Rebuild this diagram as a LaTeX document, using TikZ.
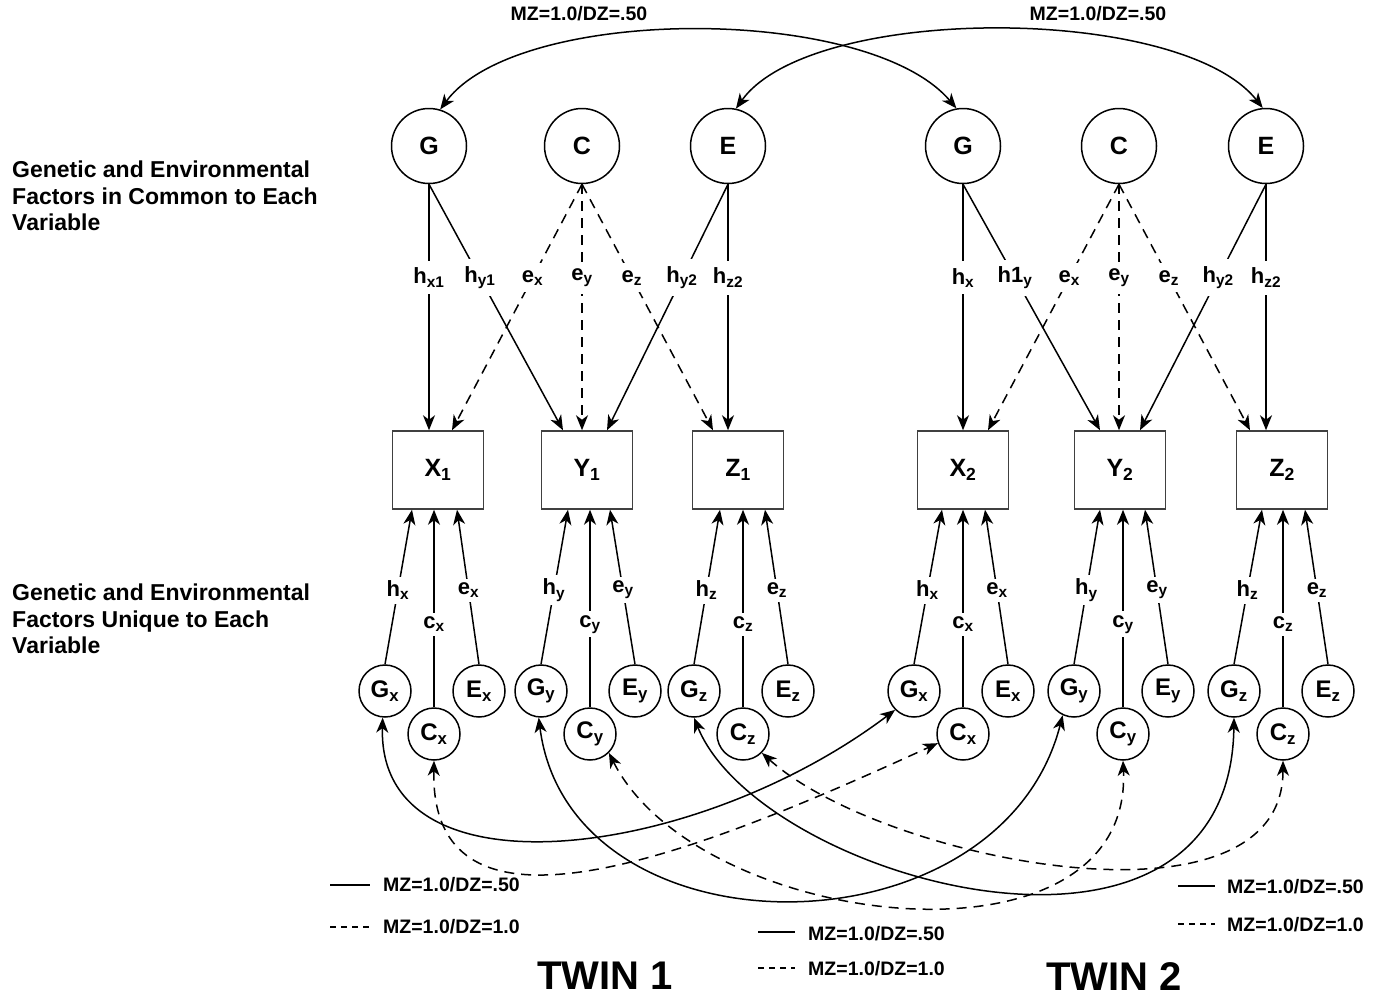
\documentclass[tikz,border=0pt]{standalone}
\usepackage{fontspec}
\setmainfont{Liberation Sans}
\usetikzlibrary{arrows.meta}

\begin{document}
\begin{tikzpicture}[x=1pt,y=-1pt,
  every node/.style={font=\bfseries},
  tip/.tip={Stealth[length=15pt,width=12pt,inset=4.5pt]},
  latent/.style={circle,draw,line width=1.5pt,inner sep=0pt,minimum size=75pt,
    font=\fontsize{25}{25}\selectfont\bfseries},
  ulatent/.style={circle,draw,line width=1.5pt,inner sep=0pt,minimum size=52pt,
    font=\fontsize{24}{24}\selectfont\bfseries},
  obs/.style={rectangle,draw=black!75,line width=1.5pt,minimum width=91pt,
    minimum height=78pt,inner sep=0pt,font=\fontsize{25}{25}\selectfont\bfseries},
  link/.style={line width=1.5pt,-tip},
  dlink/.style={link,dash pattern=on 10pt off 7pt},
  cov/.style={line width=1.5pt,tip-tip},
  dcov/.style={cov,dash pattern=on 10pt off 7pt},
  coef/.style={fill=white,inner xsep=2pt,inner ysep=7pt,
    font=\fontsize{22}{22}\selectfont\bfseries},
  ucoef/.style={coef,inner ysep=4pt},
  note/.style={font=\fontsize{19.5}{20}\selectfont\bfseries,anchor=west,inner sep=0pt},
  key/.style={line width=1.5pt},
  dkey/.style={key,dash pattern=on 6pt off 5pt},
  side/.style={anchor=north west,align=left,inner sep=0pt,
    font=\fontsize{23}{26.5}\selectfont\bfseries},
  twin/.style={inner sep=0pt,font=\fontsize{40}{40}\selectfont\bfseries},
]
\useasboundingbox (0,0) rectangle (1379,999);

% common factors
\node[latent] (G1) at (429,146) {G};
\node[latent] (C1) at (582,146) {C};
\node[latent] (E1) at (728,146) {E};
\node[latent] (G2) at (963,146) {G};
\node[latent] (C2) at (1119,146) {C};
\node[latent] (E2) at (1266,146) {E};

% measured variables
\node[obs] (X1) at (438,470) {X\textsubscript{1}};
\node[obs] (Y1) at (587,470) {Y\textsubscript{1}};
\node[obs] (Z1) at (738,470) {Z\textsubscript{1}};
\node[obs] (X2) at (963,470) {X\textsubscript{2}};
\node[obs] (Y2) at (1120,470) {Y\textsubscript{2}};
\node[obs] (Z2) at (1282,470) {Z\textsubscript{2}};

% specific factors, twin 1
\node[ulatent] (Gx1) at (385,691) {G\textsubscript{x}};
\node[ulatent] (Cx1) at (434,734) {C\textsubscript{x}};
\node[ulatent] (Ex1) at (479,691) {E\textsubscript{x}};
\node[ulatent] (Gy1) at (541,691) {G\textsubscript{y}};
\node[ulatent] (Cy1) at (590,734) {C\textsubscript{y}};
\node[ulatent] (Ey1) at (635,691) {E\textsubscript{y}};
\node[ulatent] (Gz1) at (694,691) {G\textsubscript{z}};
\node[ulatent] (Cz1) at (743,734) {C\textsubscript{z}};
\node[ulatent] (Ez1) at (788,691) {E\textsubscript{z}};
% specific factors, twin 2
\node[ulatent] (Gx2) at (914,691) {G\textsubscript{x}};
\node[ulatent] (Cx2) at (963,734) {C\textsubscript{x}};
\node[ulatent] (Ex2) at (1008,691) {E\textsubscript{x}};
\node[ulatent] (Gy2) at (1074,691) {G\textsubscript{y}};
\node[ulatent] (Cy2) at (1123,734) {C\textsubscript{y}};
\node[ulatent] (Ey2) at (1168,691) {E\textsubscript{y}};
\node[ulatent] (Gz2) at (1234,691) {G\textsubscript{z}};
\node[ulatent] (Cz2) at (1283,734) {C\textsubscript{z}};
\node[ulatent] (Ez2) at (1328,691) {E\textsubscript{z}};

% common factor loadings, twin 1
\draw[link] (G1.south) -- (G1.south |- X1.north) node[coef,pos=.38] {h\textsubscript{x1}};
\draw[link] (G1.south) -- ([xshift=-24pt]Y1.north) node[coef,pos=.38] {h\textsubscript{y1}};
\draw[dlink] (C1.south) -- ([xshift=14pt]X1.north) node[coef,pos=.38] {e\textsubscript{x}};
\draw[dlink] (C1.south) -- (C1.south |- Y1.north) node[coef,pos=.38] {e\textsubscript{y}};
\draw[dlink] (C1.south) -- ([xshift=-25pt]Z1.north) node[coef,pos=.38] {e\textsubscript{z}};
\draw[link] (E1.south) -- ([xshift=20pt]Y1.north) node[coef,pos=.38] {h\textsubscript{y2}};
\draw[link] (E1.south) -- (E1.south |- Z1.north) node[coef,pos=.38] {h\textsubscript{z2}};

% common factor loadings, twin 2
\draw[link] (G2.south) -- (G2.south |- X2.north) node[coef,pos=.38] {h\textsubscript{x}};
\draw[link] (G2.south) -- ([xshift=-20pt]Y2.north) node[coef,pos=.38] {h1\textsubscript{y}};
\draw[dlink] (C2.south) -- ([xshift=25pt]X2.north) node[coef,pos=.38] {e\textsubscript{x}};
\draw[dlink] (C2.south) -- (C2.south |- Y2.north) node[coef,pos=.38] {e\textsubscript{y}};
\draw[dlink] (C2.south) -- ([xshift=-32pt]Z2.north) node[coef,pos=.38] {e\textsubscript{z}};
\draw[link] (E2.south) -- ([xshift=20pt]Y2.north) node[coef,pos=.38] {h\textsubscript{y2}};
\draw[link] (E2.south) -- (E2.south |- Z2.north) node[coef,pos=.38] {h\textsubscript{z2}};

% specific factor loadings, twin 1
\draw[link] (Gx1.north) -- ([xshift=-26pt]X1.south) node[ucoef,pos=.48] {h\textsubscript{x}};
\draw[link] (Cx1.north) -- (Cx1.north |- X1.south) node[ucoef,pos=.42] {c\textsubscript{x}};
\draw[link] (Ex1.north) -- ([xshift=19pt]X1.south) node[ucoef,pos=.48] {e\textsubscript{x}};
\draw[link] (Gy1.north) -- ([xshift=-19pt]Y1.south) node[ucoef,pos=.48] {h\textsubscript{y}};
\draw[link] (Cy1.north) -- (Cy1.north |- Y1.south) node[ucoef,pos=.42] {c\textsubscript{y}};
\draw[link] (Ey1.north) -- ([xshift=23pt]Y1.south) node[ucoef,pos=.48] {e\textsubscript{y}};
\draw[link] (Gz1.north) -- ([xshift=-18pt]Z1.south) node[ucoef,pos=.48] {h\textsubscript{z}};
\draw[link] (Cz1.north) -- (Cz1.north |- Z1.south) node[ucoef,pos=.42] {c\textsubscript{z}};
\draw[link] (Ez1.north) -- ([xshift=27pt]Z1.south) node[ucoef,pos=.48] {e\textsubscript{z}};

% specific factor loadings, twin 2
\draw[link] (Gx2.north) -- ([xshift=-21pt]X2.south) node[ucoef,pos=.48] {h\textsubscript{x}};
\draw[link] (Cx2.north) -- (Cx2.north |- X2.south) node[ucoef,pos=.42] {c\textsubscript{x}};
\draw[link] (Ex2.north) -- ([xshift=22pt]X2.south) node[ucoef,pos=.48] {e\textsubscript{x}};
\draw[link] (Gy2.north) -- ([xshift=-20pt]Y2.south) node[ucoef,pos=.48] {h\textsubscript{y}};
\draw[link] (Cy2.north) -- (Cy2.north |- Y2.south) node[ucoef,pos=.42] {c\textsubscript{y}};
\draw[link] (Ey2.north) -- ([xshift=25pt]Y2.south) node[ucoef,pos=.48] {e\textsubscript{y}};
\draw[link] (Gz2.north) -- ([xshift=-20pt]Z2.south) node[ucoef,pos=.48] {h\textsubscript{z}};
\draw[link] (Cz2.north) -- (Cz2.north |- Z2.south) node[ucoef,pos=.42] {c\textsubscript{z}};
\draw[link] (Ez2.north) -- ([xshift=23pt]Z2.south) node[ucoef,pos=.48] {e\textsubscript{z}};

% cross-twin correlations of the common factors
\draw[cov] (G1.73) .. controls +(78,-105) and +(-88,-104) .. (G2.100);
\draw[cov] (E1.78) .. controls +(75,-105) and +(-82,-104) .. (E2.95);
\node[note,anchor=center] (r1) at (579,14) {MZ=1.0/DZ=.50};
\node[note,anchor=center] (r2) at (1098,14) {MZ=1.0/DZ=.50};

% cross-twin correlations of the specific factors
\draw[cov] (Gx1.265) .. controls +(-5,183) and +(-200,151) .. (Gx2.225);
\draw[dcov] (Cx1.south) .. controls +(-4,200) and +(-240,110) .. (Cx2.200);
\draw[cov] (Gy1.265) .. controls +(31,243) and +(-63,245) .. (Gy2.245);
\draw[dcov] (Cy1.-45) .. controls +(90,178) and +(10,220) .. (Cy2.south);
\draw[cov] (Gz1.south) .. controls +(66,163) and +(-4,293) .. (Gz2.south);
\draw[dcov] (Cz1.-45) .. controls +(120,108) and +(0,180) .. (Cz2.south);

% keys
\draw[key] (330,885) -- (370,885);
\draw[dkey] (330,927) -- (370,927);
\node[note] (k1) at (383,885) {MZ=1.0/DZ=.50};
\node[note] (k2) at (383,927) {MZ=1.0/DZ=1.0};
\draw[key] (758,932) -- (795,932);
\draw[dkey] (758,968) -- (795,968);
\node[note] (k3) at (808,934) {MZ=1.0/DZ=.50};
\node[note] (k4) at (808,969) {MZ=1.0/DZ=1.0};
\draw[key] (1178,886) -- (1215,886);
\draw[dkey] (1178,924) -- (1215,924);
\node[note] (k5) at (1227,887) {MZ=1.0/DZ=.50};
\node[note] (k6) at (1227,925) {MZ=1.0/DZ=1.0};

% side captions and twin titles
\node[side] (s1) at (12,161) {Genetic and Environmental\\Factors in Common to Each\\Variable};
\node[side] (s2) at (12,584) {Genetic and Environmental\\Factors Unique to Each\\Variable};
\node[twin] (t1) at (605,976) {TWIN 1};
\node[twin] (t2) at (1114,977) {TWIN 2};
\end{tikzpicture}
\end{document}
